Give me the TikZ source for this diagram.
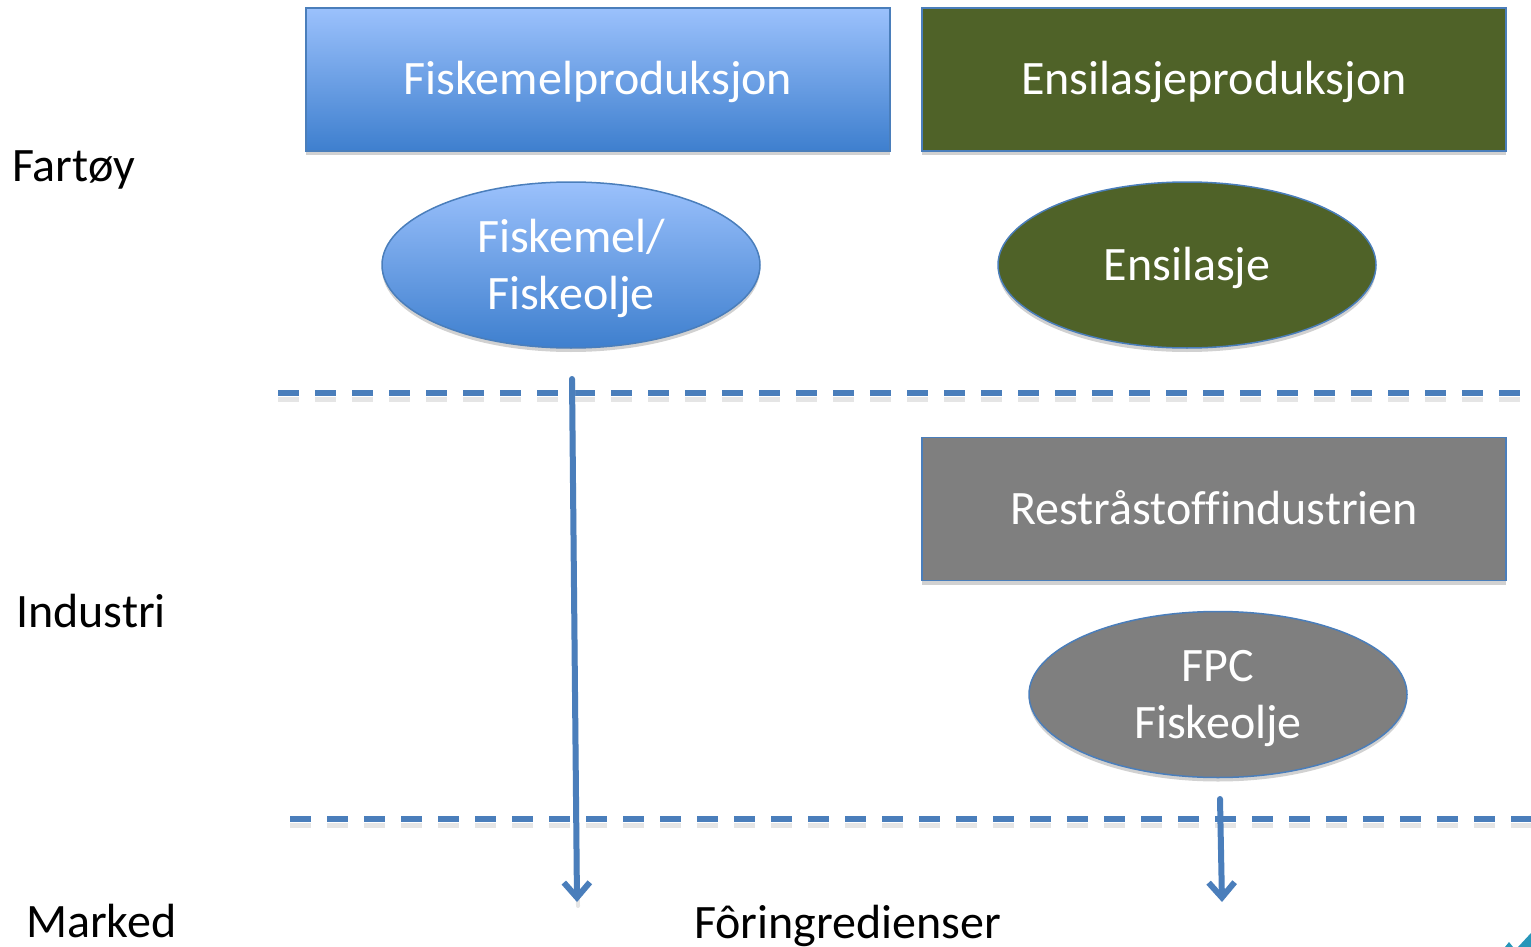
\documentclass[tikz,border=0pt]{standalone}
\usepackage{fontspec}
\setmainfont[Ligatures=NoCommon]{Carlito}
\usetikzlibrary{shapes.geometric,arrows.meta,shadows}
\definecolor{lineblue}{RGB}{74,126,187}
\definecolor{topblue}{RGB}{155,193,252}
\definecolor{botblue}{RGB}{62,127,206}
\definecolor{olive}{RGB}{79,98,40}
\definecolor{greyfill}{RGB}{127,127,127}
\definecolor{tealc}{RGB}{40,150,185}
\newcommand{\cc}[1]{\rule{0pt}{31pt}\smash{#1}}
\tikzset{
  big/.style={font=\fontsize{48}{57}\selectfont},
  soft/.style={drop shadow={opacity=0.18,shadow xshift=0pt,shadow yshift=-4pt,fill=black}},
  box/.style={draw=lineblue,line width=1.5pt,minimum width=584pt,minimum height=143pt,inner sep=0pt,text=white,big,soft},
  ell/.style={ellipse,draw=lineblue,line width=1.5pt,minimum width=378pt,minimum height=166pt,inner sep=0pt,text=white,big,align=center,soft},
  bluegrad/.style={top color=topblue,bottom color=botblue},
  sep/.style={lineblue,line width=5.5pt,dash pattern=on 21pt off 16pt},
  sepshadow/.style={black!10,line width=5pt,dash pattern=on 21pt off 16pt},
  flow/.style={lineblue,line width=6pt,line cap=round,-{Straight Barb[length=15pt,width=26pt,line width=6pt]}},
  lab/.style={big,anchor=base west,inner sep=0pt,text=black}
}
\begin{document}
\begin{tikzpicture}[x=1pt,y=-1pt]
\useasboundingbox (0,0) rectangle (1531,947);
% separators
\draw[sepshadow] (278,399) -- (1531,399);
\draw[sepshadow] (290,825) -- (1531,825);
\draw[sep] (278,393) -- (1531,393);
\draw[sep] (290,819) -- (1531,819);
% boxes
\node[box,bluegrad] (fmp) at (598,79.5) {\cc{Fiskemelproduksjon}};
\node[box,fill=olive] (enp) at (1214,79.5) {\cc{Ensilasjeproduksjon}};
\node[box,fill=greyfill] (rest) at (1214,509) {\cc{Restråstoffindustrien}};
% ellipses
\node[ell,bluegrad] (fm) at (571,265) {\cc{Fiskemel/}\\\smash{Fiskeolje}};
\node[ell,fill=olive] (ens) at (1187,265) {\cc{Ensilasje}};
\node[ell,fill=greyfill] (fpc) at (1218,694.5) {\cc{FPC}\\\smash{Fiskeolje}};
% labels
\node[lab] (fartoy) at (12,182) {Fartøy};
\node[lab] (industri) at (16,627) {Industri};
\node[lab] (marked) at (26,937) {Marked};
\node[lab] (foring) at (694,938) {Fôringredienser};
% arrows
\coordinate (a1s) at (572,379);
\coordinate (a1e) at (577,902);
\coordinate (a2s) at (1220,799);
\coordinate (a2e) at (1222,902);
\draw[black!10,line width=4pt,line cap=round] ([xshift=1pt,yshift=-4pt]a1s) -- ([xshift=1pt,yshift=-4pt]a1e);
\draw[flow] (a1s) -- (a1e);
\draw[flow] (a2s) -- (a2e);
% corner fragment
\fill[tealc] (1518,947) -- (1531,933) -- (1531,947) -- cycle;
\fill[tealc] (1505,947) -- (1509,942) -- (1513,947) -- cycle;
\end{tikzpicture}
\end{document}
